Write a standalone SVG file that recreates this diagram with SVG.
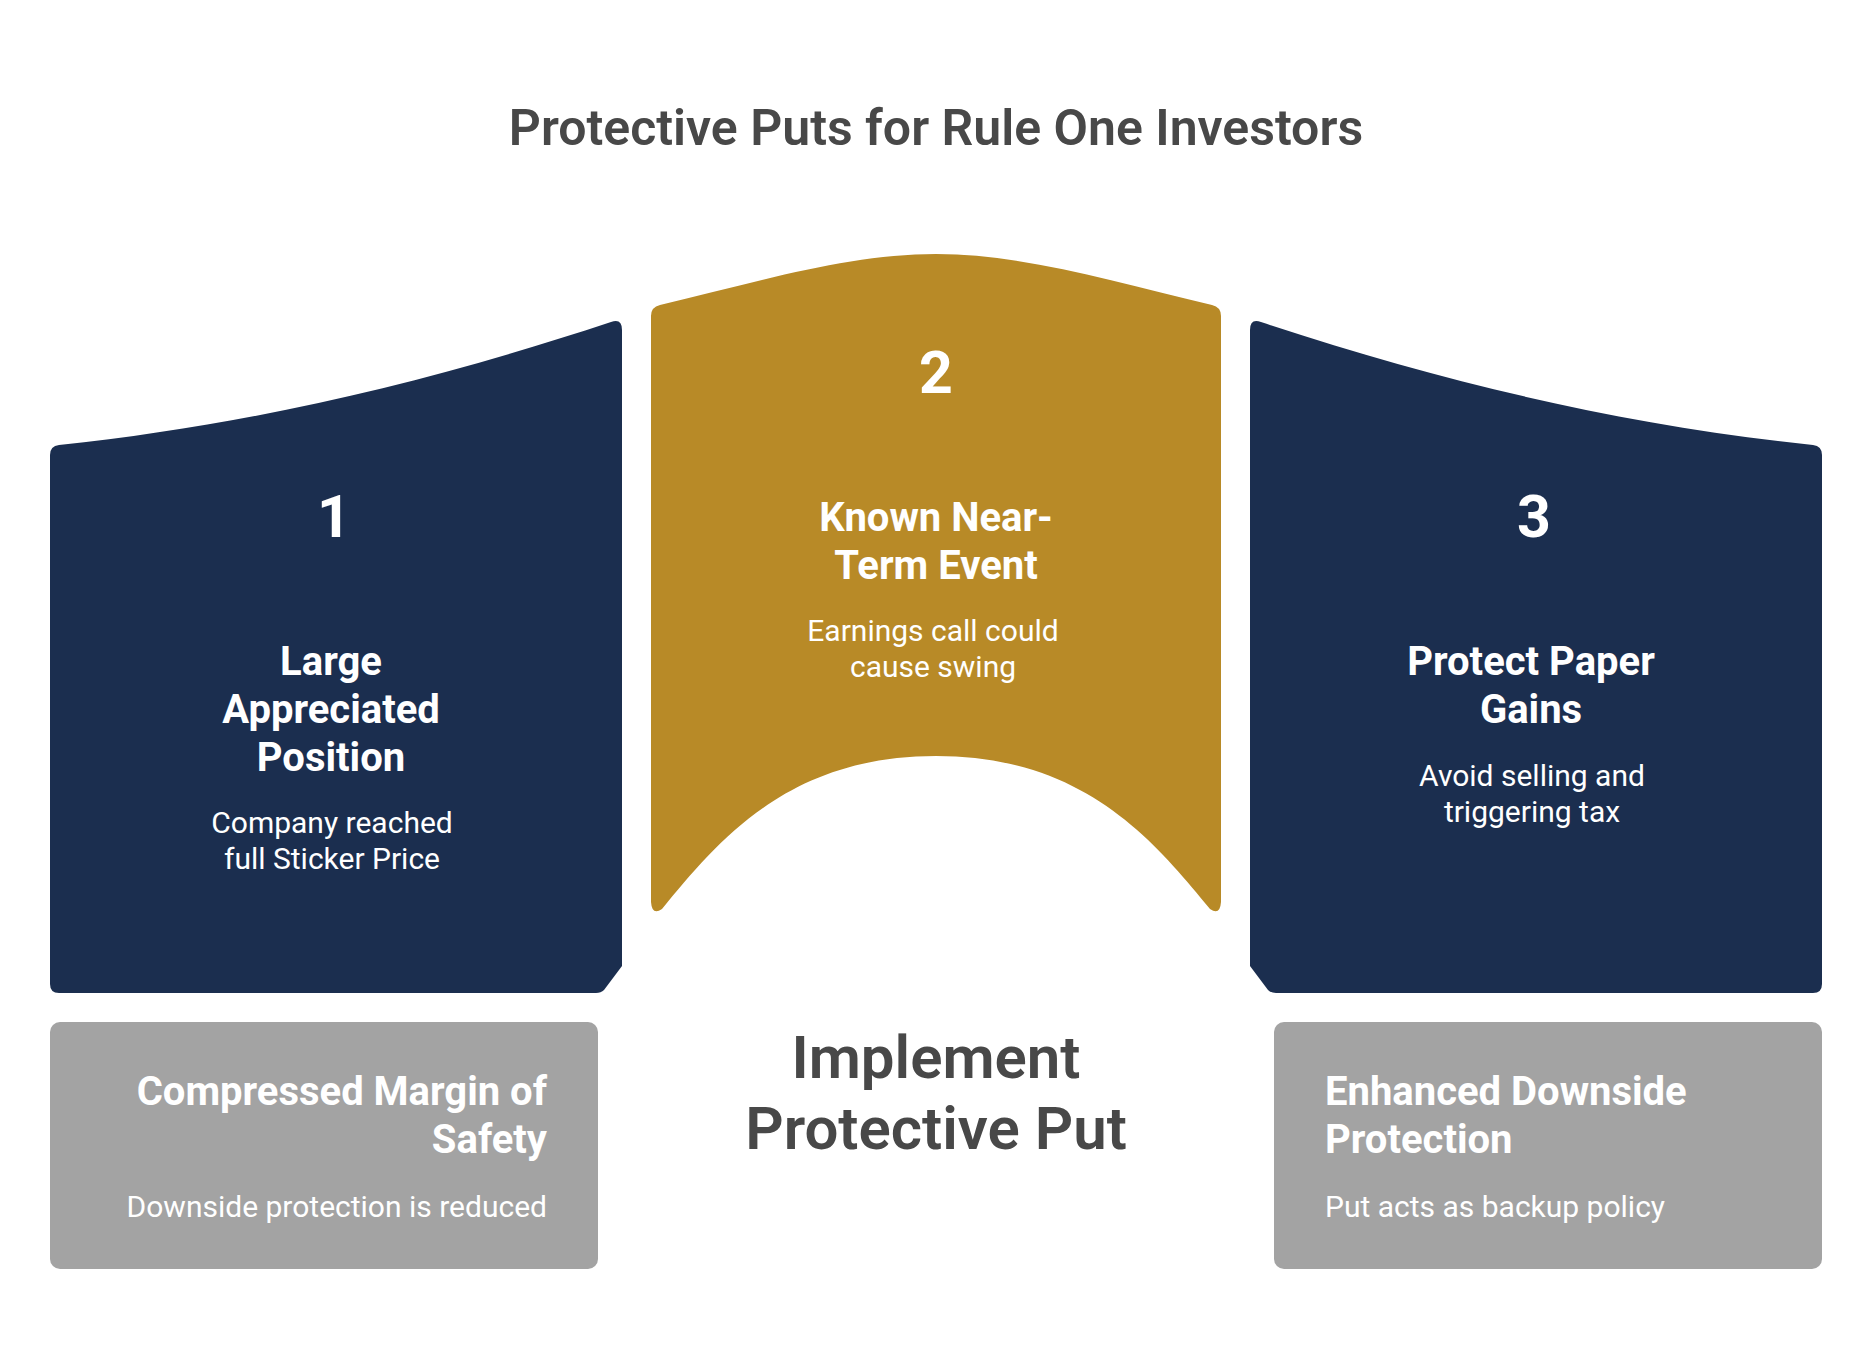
<svg xmlns="http://www.w3.org/2000/svg" width="1872" height="1368" viewBox="0 0 1872 1368">
<style>
.navy{fill:#1B2E4F}
.gold{fill:#B88A27}
.gray{fill:#A3A3A3}
.num{font-family:Roboto,"Liberation Sans",sans-serif;font-weight:700;font-size:59px;fill:#FFFFFF;text-anchor:middle}
.ttl{font-family:Roboto,"Liberation Sans",sans-serif;font-weight:700;font-size:40px;fill:#FFFFFF;text-anchor:middle}
.dsc{font-family:Roboto,"Liberation Sans",sans-serif;font-weight:400;font-size:30px;fill:#FFFFFF;text-anchor:middle}
.btl{font-family:Roboto,"Liberation Sans",sans-serif;font-weight:700;font-size:40px;fill:#FFFFFF}
.bds{font-family:Roboto,"Liberation Sans",sans-serif;font-weight:400;font-size:30px;fill:#FFFFFF}
.big{font-family:Roboto,"Liberation Sans",sans-serif;font-weight:600;font-size:60px;fill:#484848;text-anchor:middle}
.head{font-family:Roboto,"Liberation Sans",sans-serif;font-weight:600;font-size:50px;fill:#484848;text-anchor:middle}
</style>
<rect width="1872" height="1368" fill="#FFFFFF"/>
<text class="head" x="936" y="145">Protective Puts for Rule One Investors</text>

<g id="node1">
<path class="navy" d="M50,455 Q50,446 59,445 C250,425 430,382 611,322 Q622,318 622,330 L622,966 L604,990 Q601,993 596,993 L59,993 Q50,993 50,984 Z"/>
<text class="num" x="334" y="537">1</text>
<text class="ttl" x="331" y="675">Large</text>
<text class="ttl" x="331" y="723">Appreciated</text>
<text class="ttl" x="331" y="771">Position</text>
<text class="dsc" x="332" y="833">Company reached</text>
<text class="dsc" x="332" y="869">full Sticker Price</text>
</g>

<g id="node2">
<path class="gold" d="M651,316 Q651,307 660,305 C760,281 850,254 936,254 C1022,254 1112,281 1212,305 Q1221,307 1221,316 L1221,902 Q1220,916 1210,909 C1152,838 1082,756 936,756 C790,756 720,838 662,909 Q652,916 651,902 Z"/>
<text class="num" x="936" y="393">2</text>
<text class="ttl" x="936" y="531">Known Near-</text>
<text class="ttl" x="936" y="579">Term Event</text>
<text class="dsc" x="933" y="641">Earnings call could</text>
<text class="dsc" x="933" y="677">cause swing</text>
</g>

<g id="node3">
<path class="navy" transform="translate(1872,0) scale(-1,1)" d="M50,455 Q50,446 59,445 C250,425 430,382 611,322 Q622,318 622,330 L622,966 L604,990 Q601,993 596,993 L59,993 Q50,993 50,984 Z"/>
<text class="num" x="1534" y="537">3</text>
<text class="ttl" x="1531" y="675">Protect Paper</text>
<text class="ttl" x="1531" y="723">Gains</text>
<text class="dsc" x="1532" y="786">Avoid selling and</text>
<text class="dsc" x="1532" y="822">triggering tax</text>
</g>

<g id="node4">
<rect class="gray" x="50" y="1022" width="548" height="247" rx="10"/>
<text class="btl" x="547" y="1105" text-anchor="end">Compressed Margin of</text>
<text class="btl" x="547" y="1153" text-anchor="end">Safety</text>
<text class="bds" x="547" y="1217" text-anchor="end">Downside protection is reduced</text>
</g>

<g id="node5">
<text class="big" x="936" y="1078">Implement</text>
<text class="big" x="936" y="1149">Protective Put</text>
</g>

<g id="node6">
<rect class="gray" x="1274" y="1022" width="548" height="247" rx="10"/>
<text class="btl" x="1325" y="1105">Enhanced Downside</text>
<text class="btl" x="1325" y="1153">Protection</text>
<text class="bds" x="1325" y="1217">Put acts as backup policy</text>
</g>

<g id="connectors"></g>
</svg>
